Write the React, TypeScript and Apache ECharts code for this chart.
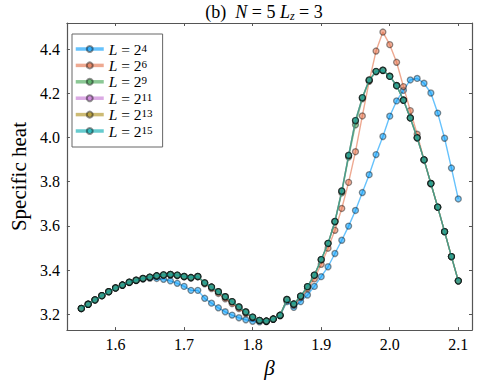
import React, { useEffect, useRef } from 'react';
import * as echarts from 'echarts';

const beta = [
  1.55, 1.56, 1.57, 1.58, 1.59, 1.6, 1.61, 1.62, 1.63, 1.64,
  1.65, 1.66, 1.67, 1.68, 1.69, 1.7, 1.71, 1.72, 1.73, 1.74,
  1.75, 1.76, 1.77, 1.78, 1.79, 1.8, 1.81, 1.82, 1.83, 1.84,
  1.85, 1.86, 1.87, 1.88, 1.89, 1.9, 1.91, 1.92, 1.93, 1.94,
  1.95, 1.96, 1.97, 1.98, 1.99, 2.0, 2.01, 2.02, 2.03, 2.04,
  2.05, 2.06, 2.07, 2.08, 2.09, 2.1,
];

const L4 = [
  3.225, 3.245, 3.265, 3.284, 3.301, 3.318, 3.331, 3.343, 3.352, 3.359,
  3.363, 3.362, 3.358, 3.351, 3.34, 3.326, 3.308, 3.308, 3.272, 3.25,
  3.229, 3.211, 3.196, 3.184, 3.175, 3.168, 3.165, 3.166, 3.177, 3.193,
  3.257, 3.231, 3.257, 3.287, 3.326, 3.37, 3.415, 3.475, 3.535, 3.599,
  3.67, 3.751, 3.832, 3.923, 4.005, 4.097, 4.166, 4.214, 4.261, 4.268,
  4.246, 4.202, 4.111, 3.997, 3.862, 3.722,
];

const L6 = [
  3.226, 3.245, 3.265, 3.284, 3.302, 3.319, 3.332, 3.344, 3.353, 3.361,
  3.367, 3.372, 3.376, 3.378, 3.375, 3.369, 3.364, 3.369, 3.338, 3.316,
  3.294, 3.27, 3.248, 3.225, 3.203, 3.182, 3.17, 3.168, 3.178, 3.194,
  3.263, 3.24, 3.275, 3.316, 3.36, 3.426, 3.499, 3.58, 3.679, 3.797,
  3.936, 4.098, 4.255, 4.392, 4.478, 4.421, 4.341, 4.231, 4.122, 4.015,
  3.9, 3.792, 3.685, 3.574, 3.461, 3.351,
];

const L9 = [
  3.226, 3.245, 3.265, 3.284, 3.302, 3.319, 3.332, 3.345, 3.354, 3.362,
  3.368, 3.374, 3.378, 3.38, 3.377, 3.371, 3.366, 3.371, 3.342, 3.323,
  3.302, 3.279, 3.257, 3.233, 3.21, 3.187, 3.172, 3.169, 3.178, 3.195,
  3.267, 3.246, 3.282, 3.325, 3.377, 3.446, 3.52, 3.618, 3.75, 3.912,
  4.058, 4.176, 4.258, 4.298, 4.304, 4.278, 4.236, 4.17, 4.089, 3.999,
  3.899, 3.792, 3.685, 3.574, 3.461, 3.351,
];

const L11 = [
  3.226, 3.245, 3.265, 3.284, 3.302, 3.319, 3.332, 3.345, 3.354, 3.362,
  3.368, 3.374, 3.378, 3.38, 3.377, 3.371, 3.366, 3.371, 3.342, 3.323,
  3.302, 3.279, 3.257, 3.233, 3.21, 3.187, 3.172, 3.169, 3.178, 3.195,
  3.267, 3.246, 3.282, 3.325, 3.377, 3.447, 3.521, 3.62, 3.757, 3.918,
  4.075, 4.18, 4.26, 4.299, 4.305, 4.278, 4.236, 4.17, 4.089, 3.999,
  3.899, 3.792, 3.685, 3.574, 3.461, 3.351,
];

const L13 = [
  3.226, 3.245, 3.265, 3.284, 3.302, 3.319, 3.332, 3.345, 3.354, 3.362,
  3.368, 3.374, 3.378, 3.38, 3.377, 3.371, 3.366, 3.371, 3.342, 3.323,
  3.302, 3.279, 3.257, 3.233, 3.21, 3.187, 3.172, 3.169, 3.178, 3.195,
  3.267, 3.246, 3.282, 3.325, 3.377, 3.447, 3.521, 3.62, 3.758, 3.919,
  4.077, 4.181, 4.261, 4.3, 4.305, 4.278, 4.235, 4.169, 4.089, 3.999,
  3.899, 3.792, 3.685, 3.574, 3.461, 3.351,
];

const L15 = [
  3.226, 3.245, 3.265, 3.284, 3.302, 3.319, 3.332, 3.345, 3.354, 3.362,
  3.368, 3.374, 3.378, 3.38, 3.377, 3.371, 3.366, 3.371, 3.342, 3.323,
  3.302, 3.279, 3.257, 3.233, 3.21, 3.187, 3.172, 3.169, 3.178, 3.195,
  3.267, 3.246, 3.282, 3.325, 3.377, 3.448, 3.521, 3.62, 3.758, 3.92,
  4.078, 4.181, 4.261, 4.3, 4.305, 4.277, 4.235, 4.169, 4.089, 3.999,
  3.899, 3.792, 3.685, 3.574, 3.461, 3.351,
];

const exponents = ['4', '6', '9', '11', '13', '15'];
const seriesValues = [L4, L6, L9, L11, L13, L15];
const rgb = ['0,154,250', '227,111,71', '62,164,78', '195,113,210', '172,142,24', '0,169,173'];
const xTicks = [1.6, 1.7, 1.8, 1.9, 2.0, 2.1];
const yTicks = [3.2, 3.4, 3.6, 3.8, 4.0, 4.2, 4.4];

const FONT = '"Liberation Serif", "DejaVu Serif", serif';

export default function App() {
  const ref = useRef<HTMLDivElement>(null);

  useEffect(() => {
    if (!ref.current) return;
    const chart = echarts.init(ref.current, undefined, { renderer: 'svg' });

    const series = seriesValues.map((vals, k) => ({
      name: 'L=2^' + exponents[k],
      type: 'line',
      data: beta.map((b, i) => [b, vals[i]]),
      symbol: 'circle',
      symbolSize: 6,
      showSymbol: true,
      silent: true,
      color: `rgba(${rgb[k]},0.6)`,
      lineStyle: { color: `rgba(${rgb[k]},0.6)`, width: 1.4 },
      itemStyle: {
        color: `rgba(${rgb[k]},0.55)`,
        borderColor: 'rgba(0,0,0,0.42)',
        borderWidth: 1.3,
      },
      emphasis: { disabled: true },
      z: 2 + k,
    }));

    const axisLine = { show: true, onZero: false, lineStyle: { color: '#555', width: 1.2 } };
    const tickStyle = { color: '#555', width: 1 };

    chart.setOption({
      animation: false,
      backgroundColor: '#fff',
      title: {
        text: '(b)  {i|N} = 5 {i|L}{sub|z} = 3',
        left: 264,
        textAlign: 'center',
        top: 2,
        padding: 0,
        textStyle: {
          fontFamily: FONT,
          fontSize: 18,
          fontWeight: 'normal',
          color: '#000',
          lineHeight: 20,
          rich: {
            i: { fontFamily: FONT, fontStyle: 'italic', fontSize: 18, lineHeight: 20 },
            sub: { fontFamily: FONT, fontStyle: 'italic', fontSize: 12, lineHeight: 8, verticalAlign: 'bottom' },
          },
        },
      },
      grid: { left: 57, top: 23, right: 6, bottom: 44, containLabel: false },
      legend: {
        orient: 'vertical',
        left: 72,
        top: 34,
        padding: [7, 10, 8, 2],
        backgroundColor: '#fff',
        borderColor: '#666',
        borderWidth: 1,
        borderRadius: 0,
        itemWidth: 28,
        itemHeight: 7.5,
        itemGap: 0.4,
        selectedMode: false,
        lineStyle: { width: 3.5 },
        data: seriesValues.map((_, k) => 'L=2^' + exponents[k]),
        formatter: (name: string) => {
          const e = name.split('^')[1];
          return `{i|L}{t| = 2}{s|${e}}`;
        },
        textStyle: {
          fontFamily: FONT,
          fontSize: 15,
          color: '#000',
          lineHeight: 14,
          rich: {
            i: { fontFamily: FONT, fontStyle: 'italic', fontSize: 15.5, lineHeight: 14 },
            t: { fontFamily: FONT, fontSize: 15.5, lineHeight: 14 },
            s: { fontFamily: FONT, fontSize: 11, lineHeight: 4, verticalAlign: 'top' },
          },
        },
      },
      xAxis: [
        {
          type: 'value',
          min: 1.529,
          max: 2.12,
          position: 'bottom',
          name: 'β',
          nameLocation: 'middle',
          nameGap: 21,
          nameTextStyle: { fontFamily: FONT, fontStyle: 'italic', fontSize: 21, color: '#000' },
          axisLine,
          splitLine: { show: false },
          axisTick: { show: true, inside: true, length: 3, customValues: xTicks, lineStyle: tickStyle },
          axisLabel: {
            show: true,
            customValues: xTicks,
            margin: 6,
            formatter: (v: number) => v.toFixed(1),
            fontFamily: FONT,
            fontSize: 16,
            color: '#000',
          },
        },
        {
          type: 'value',
          min: 1.529,
          max: 2.12,
          position: 'top',
          axisLine,
          splitLine: { show: false },
          axisTick: { show: true, inside: true, length: 3, customValues: xTicks, lineStyle: tickStyle },
          axisLabel: { show: false },
        },
      ],
      yAxis: [
        {
          type: 'value',
          min: 3.128,
          max: 4.519,
          position: 'left',
          name: 'Specific heat',
          nameLocation: 'middle',
          nameGap: 30,
          nameTextStyle: { fontFamily: FONT, fontSize: 21, color: '#000' },
          axisLine,
          splitLine: { show: false },
          axisTick: { show: true, inside: true, length: 3, customValues: yTicks, lineStyle: tickStyle },
          axisLabel: {
            show: true,
            customValues: yTicks,
            margin: 7,
            formatter: (v: number) => v.toFixed(1),
            fontFamily: FONT,
            fontSize: 16,
            color: '#000',
          },
        },
        {
          type: 'value',
          min: 3.128,
          max: 4.519,
          position: 'right',
          axisLine,
          splitLine: { show: false },
          axisTick: { show: true, inside: true, length: 3, customValues: yTicks, lineStyle: tickStyle },
          axisLabel: { show: false },
        },
      ],
      series,
    });

    return () => chart.dispose();
  }, []);

  return <div ref={ref} style={{ width: 478, height: 383, position: 'absolute', left: 0, top: 0 }} />;
}
